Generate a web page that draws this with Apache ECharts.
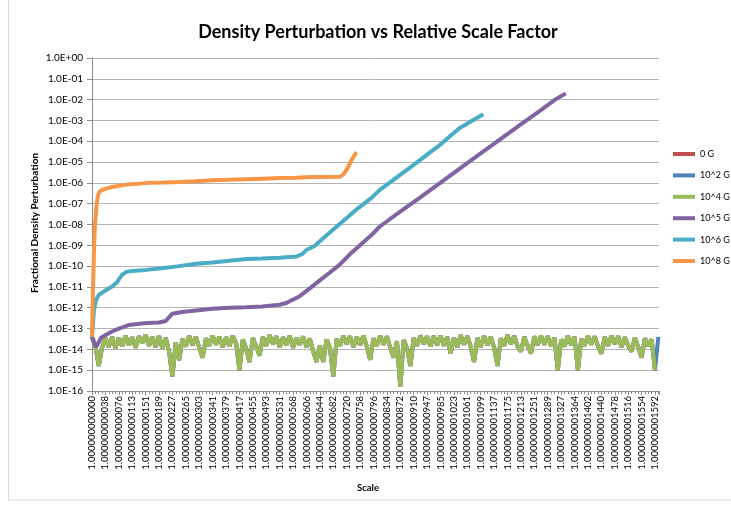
<!DOCTYPE html>
<html>
<head>
<meta charset="utf-8">
<script src="https://cdn.jsdelivr.net/npm/echarts@6/dist/echarts.min.js"></script>
<style>
  html, body { margin: 0; padding: 0; background: #fff; }
  #chart { width: 731px; height: 506px; }
</style>
</head>
<body>
<div id="chart"></div>
<script>
// x positions are in units of one tick label step (label i sits at x = i)
var tickLabels = ['1.000000000000', '1.000000000038', '1.000000000076', '1.000000000113', '1.000000000151',
  '1.000000000189', '1.000000000227', '1.000000000265', '1.000000000303', '1.000000000341',
  '1.000000000379', '1.000000000417', '1.000000000455', '1.000000000493', '1.000000000531',
  '1.000000000568', '1.000000000606', '1.000000000644', '1.000000000682', '1.000000000720',
  '1.000000000758', '1.000000000796', '1.000000000834', '1.000000000872', '1.000000000910',
  '1.000000000947', '1.000000000985', '1.000000001023', '1.000000001061', '1.000000001099',
  '1.000000001137', '1.000000001175', '1.000000001213', '1.000000001251', '1.000000001289',
  '1.000000001327', '1.000000001364', '1.000000001402', '1.000000001440', '1.000000001478',
  '1.000000001516', '1.000000001554', '1.000000001592']

var seriesNames = ['0 G', '10^2 G', '10^4 G', '10^5 G', '10^6 G', '10^8 G']
var seriesColors = ['#C0504D', '#4F81BD', '#9BBB59', '#8064A2', '#4BACC6', '#F79646']

// weak fields (0 G, 10^2 G, 10^4 G) stay at noise level, sampled every quarter label step
var weakStep = 0.25
var weakField = [
  4e-14, 1.5e-14, 1.6e-15, 1.2e-14, 3.5e-14, 1.3e-14, 4e-14, 1.1e-14, 3.6e-14, 1.4e-14,
  4.5e-14, 1.6e-14, 3.8e-14, 1.2e-14, 4.2e-14, 2.0e-14, 5e-14, 1.5e-14, 4e-14, 1.3e-14,
  4.6e-14, 1.1e-14, 3.5e-14, 8e-15, 5e-16, 2.2e-14, 3e-15, 3.2e-14, 1.4e-14, 4.4e-14,
  1.6e-14, 4e-14, 1.2e-14, 4e-15, 3.4e-14, 1.5e-14, 4.6e-14, 1.7e-14, 4e-14, 1.3e-14,
  3.8e-14, 1.4e-14, 4.4e-14, 2e-14, 1e-15, 3e-14, 1.1e-14, 2.5e-15, 3.5e-14, 1.4e-14,
  5e-15, 4e-14, 1.5e-14, 4.8e-14, 1.8e-14, 4.2e-14, 1.3e-14, 3.8e-14, 1.6e-14, 4.5e-14,
  1.2e-14, 3.6e-14, 1.7e-14, 4.1e-14, 1.3e-14, 3.3e-14, 8e-15, 2.5e-15, 1.5e-14, 2.5e-15,
  3e-14, 1.2e-14, 5e-16, 3.2e-14, 1.5e-14, 4.5e-14, 1.8e-14, 4.2e-14, 1.3e-14, 4e-14,
  1.6e-14, 4.6e-14, 1.4e-14, 3.2e-15, 3.4e-14, 1.5e-14, 4.5e-14, 1.7e-14, 4.2e-14, 1.2e-14,
  4e-15, 2.5e-14, 1.6e-16, 2.8e-14, 1.2e-14, 1.6e-15, 3.5e-14, 1.5e-14, 4.6e-14, 1.8e-14,
  4.2e-14, 1.4e-14, 4.4e-14, 1.6e-14, 4.5e-14, 1.5e-14, 4e-14, 6.3e-15, 3.6e-14, 1.3e-14,
  4.8e-14, 1.7e-14, 4.3e-14, 1.4e-14, 2.5e-15, 3.5e-14, 1.3e-14, 4.5e-14, 1.6e-14, 4e-14,
  1.2e-14, 1.6e-15, 3.4e-14, 1.5e-14, 4.8e-14, 1.8e-14, 4.4e-14, 1.4e-14, 7.9e-15, 4e-14,
  1.5e-14, 6.3e-15, 4.2e-14, 1.6e-14, 4.6e-14, 1.7e-14, 4.3e-14, 1.4e-14, 3.6e-14, 1e-15,
  3e-14, 1.4e-14, 4.4e-14, 1.6e-14, 4e-14, 1e-15, 3.2e-14, 1.5e-14, 4.6e-14, 1.7e-14,
  4.2e-14, 1.4e-14, 6.3e-15, 4e-14, 1.5e-14, 4.5e-14, 1.8e-14, 4.2e-14, 1.3e-14, 3.8e-14,
  1.5e-14, 7.9e-15, 3.6e-14, 1.3e-14, 4e-15, 3.4e-14, 1.5e-14, 3e-14, 1e-15
]
var blueLast = 4e-14   // the 10^2 G run has one more sample than the others

// [x, value] pairs
var field1e5 = [[0, 4e-14], [0.15, 2.1e-14], [0.3, 1.3e-14], [0.45, 1.9e-14], [0.67, 3.6e-14],
  [1.05, 5e-14], [1.5, 7.2e-14], [2.0, 1.0e-13], [2.77, 1.5e-13], [3.89, 1.8e-13], [5.0, 1.95e-13],
  [5.5, 2.3e-13], [5.98, 5.1e-13], [6.73, 6.3e-13], [7.77, 7.4e-13], [8.97, 8.9e-13], [10.24, 1.0e-12],
  [11.5, 1.05e-12], [12.7, 1.15e-12], [14.0, 1.4e-12], [14.5, 1.7e-12], [14.95, 2.4e-12],
  [15.47, 3.5e-12], [16.2, 8.1e-12], [16.97, 2e-11], [17.7, 4.7e-11], [18.46, 1.15e-10],
  [19.2, 3.5e-10], [20.18, 1.3e-9], [20.85, 3.1e-9], [21.45, 7.8e-9], [22.94, 3.9e-8],
  [24.44, 1.9e-7], [25.93, 9.5e-7], [27.43, 4.8e-6], [28.92, 2.4e-5], [30.42, 1.2e-4],
  [31.91, 5.9e-4], [33.41, 2.9e-3], [34.6, 1.05e-2], [35.35, 2.0e-2]]

var field1e6 = [[0, 4e-14], [0.15, 8e-13], [0.3, 2.4e-12], [0.52, 4.2e-12], [0.97, 6.5e-12],
  [1.5, 1.05e-11], [1.87, 1.7e-11], [2.24, 3.8e-11], [2.54, 5.2e-11], [2.99, 5.9e-11], [4.04, 6.6e-11],
  [5.38, 8.1e-11], [6.5, 1.0e-10], [7.77, 1.3e-10], [8.97, 1.5e-10], [10.24, 1.8e-10], [11.5, 2.2e-10],
  [12.7, 2.3e-10], [13.98, 2.5e-10], [15.25, 2.9e-10], [15.7, 3.9e-10], [16.0, 6e-10], [16.6, 9.3e-10],
  [17.1, 1.8e-9], [17.7, 3.9e-9], [18.3, 8.5e-9], [18.98, 2e-8], [19.6, 4.5e-8], [20.18, 8.7e-8],
  [20.85, 1.9e-7], [21.45, 4.5e-7], [22.94, 2.3e-6], [24.44, 1.2e-5], [25.93, 6.5e-5],
  [27.43, 4.3e-4], [28.55, 1.15e-3], [29.2, 2.0e-3]]

var field1e8 = [[0, 4e-14], [0.07, 7e-12], [0.15, 6e-10], [0.22, 1e-8], [0.34, 8.7e-8], [0.45, 2.6e-7],
  [0.6, 4e-7], [0.9, 5e-7], [1.5, 6.3e-7], [2.2, 7.6e-7], [2.77, 8.7e-7], [3.5, 9.2e-7], [4.26, 1.0e-6],
  [5.4, 1.03e-6], [6.5, 1.1e-6], [7.7, 1.2e-6], [9.0, 1.35e-6], [10.2, 1.4e-6], [11.5, 1.5e-6],
  [12.7, 1.6e-6], [14.0, 1.7e-6], [15.2, 1.75e-6], [16.4, 1.9e-6], [17.5, 1.9e-6], [18.5, 1.95e-6],
  [18.76, 2.6e-6], [19.06, 5e-6], [19.36, 1.25e-5], [19.73, 3e-5]]

function weakPairs(vals) {
  return vals.map(function (v, i) { return [i * weakStep, v] })
}

var font = 'Lato, "Liberation Sans", sans-serif'
var chart = echarts.init(document.getElementById('chart'), null, { renderer: 'canvas' })

var runs = [
  weakPairs(weakField),
  weakPairs(weakField.concat([blueLast])),
  weakPairs(weakField),
  field1e5,
  field1e6,
  field1e8
]

chart.setOption({
  animation: false,
  grid: { left: 92, right: 72, top: 58, bottom: 115 },
  legend: {
    orient: 'vertical',
    left: 668,
    top: 143,
    icon: 'rect',
    itemWidth: 22,
    itemHeight: 4,
    itemGap: 9.4,
    textStyle: { fontFamily: font, fontSize: 9, color: '#000', lineHeight: 12 },
    data: seriesNames
  },
  xAxis: {
    type: 'value',
    min: 0,
    max: 42.3,
    interval: 1,
    axisLine: { onZero: false, lineStyle: { color: '#8c8c8c' } },
    axisTick: { show: true, length: 4, lineStyle: { color: '#8c8c8c' } },
    minorTick: { show: true, splitNumber: 4, length: 3, lineStyle: { color: '#8c8c8c' } },
    splitLine: { show: false },
    axisLabel: {
      rotate: 90,
      margin: 5,
      fontFamily: font,
      fontSize: 9.5,
      color: '#000',
      formatter: function (v) {
        return Number.isInteger(v) && tickLabels[v] ? tickLabels[v] : ''
      }
    }
  },
  yAxis: {
    type: 'log',
    logBase: 10,
    min: 1e-16,
    max: 1,
    interval: 1,
    axisLine: { show: true, lineStyle: { color: '#8c8c8c' } },
    axisTick: { show: true, length: 5, lineStyle: { color: '#8c8c8c' } },
    splitLine: { lineStyle: { color: '#b3b3b3' } },
    axisLabel: {
      margin: 9,
      fontFamily: font,
      fontSize: 10,
      color: '#000',
      formatter: function (v) {
        var e = Math.round(Math.log10(v))
        return '1.0E' + (e < 0 ? '-' : '+') + String(Math.abs(e)).padStart(2, '0')
      }
    }
  },
  graphic: [
    {
      type: 'rect',
      shape: { x: 8.5, y: -5, width: 740, height: 505 },
      style: { fill: 'none', stroke: '#d9d9d9', lineWidth: 1 },
      silent: true
    },
    {
      type: 'text',
      x: 378,
      y: 32,
      style: {
        text: 'Density Perturbation vs Relative Scale Factor',
        fontFamily: font, fontWeight: 'bold', fontSize: 18,
        fill: '#000', textAlign: 'center', textVerticalAlign: 'middle'
      }
    },
    {
      type: 'text',
      x: 35,
      y: 223,
      rotation: Math.PI / 2,
      style: {
        text: 'Fractional Density Perturbation',
        fontFamily: font, fontWeight: 'bold', fontSize: 10,
        fill: '#000', textAlign: 'center', textVerticalAlign: 'middle'
      }
    },
    {
      type: 'text',
      x: 368,
      y: 488,
      style: {
        text: 'Scale',
        fontFamily: font, fontWeight: 'bold', fontSize: 9.5,
        fill: '#000', textAlign: 'center', textVerticalAlign: 'middle'
      }
    }
  ],
  series: seriesNames.map(function (name, i) {
    return {
      name: name,
      type: 'line',
      data: runs[i],
      showSymbol: false,
      symbol: 'none',
      color: seriesColors[i],
      lineStyle: { width: 4, color: seriesColors[i] },
      z: 2 + i
    }
  })
})
</script>
</body>
</html>
